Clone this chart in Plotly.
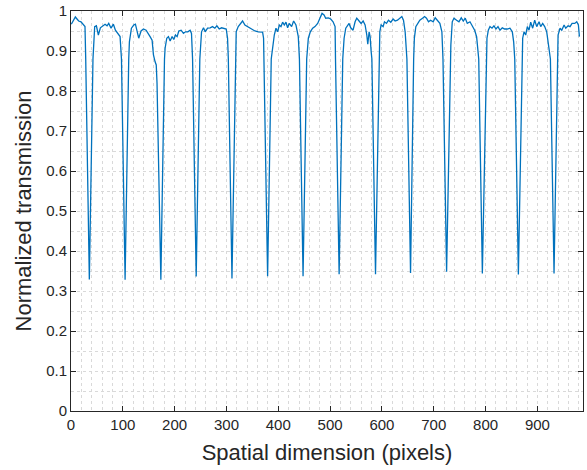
import plotly.graph_objects as go

# Readings of the transmission curve (x in pixels, y normalized)
plateau_x = [0.6, 4.5, 8.4, 11.6, 14.8, 19.3, 23.8, 27.0,
             44.0, 45.7, 49.0, 52.8, 56.7, 61.2, 65.7, 69.6, 72.8, 77.3, 81.8, 85.7, 90.8, 94.7,
             112.7, 116.6, 121.1, 124.3, 127.5, 130.7, 135.2, 139.8, 144.9, 149.4, 152.6, 156.5, 159.1, 162.3, 164.5,
             181.6, 184.8, 188.0, 191.3, 195.1, 198.4, 201.6, 204.8, 208.0, 212.5, 217.0, 220.9, 225.4, 229.9, 232.5,
             249.5, 251.9, 255.7, 259.0, 263.5, 268.6, 273.1, 277.6, 281.5, 286.0, 290.5, 295.7, 299.5, 302.1,
             318.8, 322.7, 326.6, 331.1, 335.6, 340.7, 345.9, 350.4, 354.9, 361.3, 369.7, 371.6,
             389.7, 392.3, 395.5, 398.7, 402.0, 405.2, 408.4, 411.6, 414.8, 418.0, 421.2, 425.7, 429.6, 434.1, 438.6,
             458.0, 461.8, 466.3, 470.8, 476.0, 481.1, 484.4, 488.3, 491.5, 496.7, 501.2, 505.7, 509.6,
             527.0, 530.2, 533.4, 536.6, 539.8, 544.3, 548.2, 551.4, 555.9, 559.8, 563.7, 567.5, 570.8, 572.7, 575.3, 577.2, 579.1,
             595.9, 598.4, 602.3, 604.9, 608.8, 612.6, 617.1, 621.6, 625.5, 630.0, 634.5, 638.4, 641.6, 644.8,
             662.6, 665.4, 669.3, 673.1, 678.3, 682.2, 686.0, 689.9, 693.8, 698.9, 702.8, 707.3, 711.8, 715.7,
             733.0, 735.7, 739.0, 744.1, 748.6, 753.1, 757.0, 760.8, 764.7, 769.9, 774.4, 778.9, 782.7,
             802.7, 805.3, 808.5, 812.4, 816.2, 820.1, 824.0, 827.8, 832.3, 836.8, 842.0, 847.1, 851.6, 854.2,
             871.6, 874.2, 877.4, 880.6, 883.8, 887.1, 890.9, 894.8, 898.7, 903.2, 906.4, 910.2, 914.1, 918.0, 920.5,
             939.9, 943.7, 947.0, 951.5, 954.7, 959.2, 963.0, 966.9, 972.1, 975.9, 979.1, 981.1]
plateau_y = [0.967, 0.977, 0.985, 0.980, 0.975, 0.973, 0.965, 0.961,
             0.935, 0.961, 0.963, 0.940, 0.958, 0.963, 0.967, 0.963, 0.969, 0.957, 0.967, 0.952, 0.944, 0.936,
             0.923, 0.957, 0.965, 0.967, 0.952, 0.932, 0.950, 0.955, 0.952, 0.944, 0.936, 0.927, 0.890, 0.873, 0.865,
             0.907, 0.932, 0.936, 0.925, 0.936, 0.929, 0.940, 0.936, 0.950, 0.952, 0.944, 0.948, 0.948, 0.952, 0.944,
             0.900, 0.948, 0.958, 0.948, 0.957, 0.958, 0.961, 0.957, 0.963, 0.955, 0.958, 0.957, 0.955, 0.932,
             0.948, 0.961, 0.969, 0.975, 0.965, 0.961, 0.957, 0.952, 0.950, 0.948, 0.947, 0.932,
             0.923, 0.940, 0.957, 0.948, 0.965, 0.961, 0.972, 0.965, 0.972, 0.958, 0.969, 0.961, 0.975, 0.965, 0.936,
             0.932, 0.948, 0.957, 0.961, 0.969, 0.982, 0.994, 0.990, 0.982, 0.983, 0.980, 0.973, 0.961,
             0.932, 0.957, 0.965, 0.969, 0.958, 0.952, 0.973, 0.982, 0.975, 0.969, 0.975, 0.965, 0.940, 0.917, 0.948, 0.936, 0.900,
             0.948, 0.965, 0.961, 0.973, 0.969, 0.977, 0.972, 0.980, 0.975, 0.977, 0.982, 0.986, 0.977, 0.948,
             0.932, 0.961, 0.969, 0.977, 0.982, 0.986, 0.982, 0.973, 0.977, 0.973, 0.983, 0.977, 0.969, 0.948,
             0.915, 0.973, 0.982, 0.977, 0.973, 0.983, 0.975, 0.982, 0.969, 0.973, 0.963, 0.952, 0.936,
             0.932, 0.952, 0.961, 0.957, 0.963, 0.955, 0.961, 0.952, 0.958, 0.955, 0.955, 0.957, 0.948, 0.923,
             0.932, 0.948, 0.940, 0.961, 0.952, 0.972, 0.957, 0.977, 0.961, 0.973, 0.961, 0.969, 0.961, 0.948, 0.923,
             0.940, 0.957, 0.952, 0.965, 0.957, 0.963, 0.961, 0.969, 0.969, 0.973, 0.965, 0.936]

# Absorption dips: centre position and minimum transmission
dip_x = [35.4, 104.4, 173.4, 241.6, 310.6, 379.4, 447.8, 517.4, 587.6, 655.2, 724.8, 793.8, 863.3, 932.1]
dip_y = [0.329, 0.328, 0.328, 0.336, 0.331, 0.337, 0.337, 0.342, 0.342, 0.345, 0.348, 0.344, 0.341, 0.344]
# Dip walls read near the 0.88 level (left edge, right edge)
wall_left_x = [28.4, 97.4, 166.0, 234.6, 303.6, 372.4, 440.8, 510.4, 580.6, 648.2, 717.8, 786.8, 856.3, 925.1]
wall_left_y = [0.88, 0.88, 0.82, 0.88, 0.88, 0.88, 0.88, 0.88, 0.88, 0.88, 0.88, 0.88, 0.88, 0.88]
wall_right_x = [42.4, 111.4, 180.4, 248.6, 317.6, 386.4, 454.8, 524.4, 594.6, 661.2, 731.8, 800.8, 870.3, 939.1]
wall_right_y = [0.88, 0.88, 0.88, 0.88, 0.88, 0.88, 0.88, 0.88, 0.88, 0.88, 0.88, 0.88, 0.88, 0.88]

x_ticks = [0, 100, 200, 300, 400, 500, 600, 700, 800, 900]
y_ticks = [0, 0.1, 0.2, 0.3, 0.4, 0.5, 0.6, 0.7, 0.8, 0.9, 1]
y_tick_labels = ["0", "0.1", "0.2", "0.3", "0.4", "0.5", "0.6", "0.7", "0.8", "0.9", "1"]

pts = list(zip(plateau_x, plateau_y))
pts += list(zip(dip_x, dip_y))
pts += list(zip(wall_left_x, wall_left_y))
pts += list(zip(wall_right_x, wall_right_y))
pts.sort(key=lambda p: p[0])
xs = [p[0] for p in pts]
ys = [p[1] for p in pts]

axis_col = "#262626"
grid_col = "#d9d9d9"
font_fam = "Liberation Sans, Arial, sans-serif"

fig = go.Figure()
fig.add_trace(go.Scatter(x=xs, y=ys, mode="lines",
                         line=dict(color="#0072BD", width=1.3), showlegend=False))

common = dict(showline=True, linecolor=axis_col, linewidth=1, mirror="allticks",
              ticks="inside", ticklen=5, tickcolor=axis_col, tickwidth=1,
              showgrid=True, gridcolor=grid_col, griddash="dot", gridwidth=1,
              zeroline=False,
              tickfont=dict(family=font_fam, size=15, color=axis_col))

fig.update_xaxes(range=[0, 988], tickvals=x_ticks,
                 minor=dict(dtick=20, tick0=0, showgrid=True, gridcolor=grid_col, griddash="dot", ticks=""),
                 title=dict(text="Spatial dimension (pixels)", standoff=12,
                            font=dict(family=font_fam, size=22, color=axis_col)),
                 **common)
fig.update_yaxes(range=[0, 1], tickvals=y_ticks, ticktext=y_tick_labels,
                 minor=dict(dtick=0.05, tick0=0, showgrid=True, gridcolor=grid_col, griddash="dot", ticks=""),
                 title=dict(text="Normalized transmission", standoff=8,
                            font=dict(family=font_fam, size=22, color=axis_col)),
                 **common)

fig.update_layout(width=587, height=470,
                  margin=dict(l=71, r=4, t=11, b=59, autoexpand=False),
                  paper_bgcolor="white", plot_bgcolor="white")

fig.write_html("out.html")
